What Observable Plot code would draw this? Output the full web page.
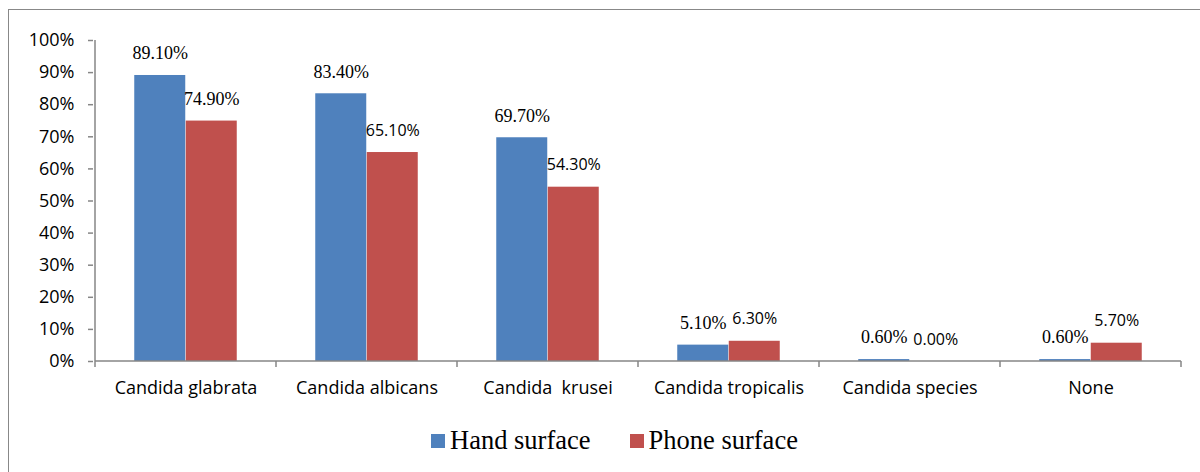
<!DOCTYPE html>
<html>
<head>
<meta charset="utf-8">
<script src="https://cdn.jsdelivr.net/npm/d3@7"></script>
<script src="https://cdn.jsdelivr.net/npm/@observablehq/plot@0.6"></script>
<style>
  html, body { margin: 0; padding: 0; background: #fff; overflow: hidden; width: 1200px; height: 472px; }
  #frame { position: absolute; left: 8px; top: 9px; width: 1400px; height: 700px; border: 1.5px solid #888; box-sizing: border-box; }
  #chart { position: absolute; left: 0; top: 0; }
  svg text { white-space: pre; }
  svg .serif-label text, svg g.serif-label { font-family: "Liberation Serif", "Times New Roman", serif !important; }
  #legend { position: absolute; left: 431px; top: 425px; display: flex; align-items: center; font-family: "Liberation Serif", "Times New Roman", serif; font-size: 26.5px; color: #000; }
  .item { display: flex; align-items: center; }
  .sw { width: 14px; height: 14px; margin-right: 5px; }
</style>
</head>
<body>
<div id="frame"></div>
<div id="chart"></div>
<div id="legend"></div>
<script>
const categories = ["Candida glabrata", "Candida albicans", "Candida  krusei", "Candida tropicalis", "Candida species", "None"];
const seriesNames = ["Hand surface", "Phone surface"];
const handValues = [89.1, 83.4, 69.7, 5.1, 0.6, 0.6];
const phoneValues = [74.9, 65.1, 54.3, 6.3, 0.0, 5.7];
const yTicks = [0, 10, 20, 30, 40, 50, 60, 70, 80, 90, 100];
const colors = ["#4F81BD", "#C0504D"];

const W = 1200, H = 400;
const mL = 93, mR = 18, mT = 40, mB = 39;
const bw = (W - mL - mR) / categories.length;
const barW = 51.5;

const hand = categories.map((c, i) => ({category: c, value: handValues[i], label: handValues[i].toFixed(2) + "%", i}));
const phone = categories.map((c, i) => ({category: c, value: phoneValues[i], label: phoneValues[i].toFixed(2) + "%", i}));

const axisColor = "#868686";

const axesMark = (index, scales, values, dims) => {
  const x = scales.x, y = scales.y;
  const b = typeof x.bandwidth === "function" ? x.bandwidth() : x.bandwidth;
  const g = d3.create("svg:g").attr("stroke", axisColor).attr("stroke-width", 1.5);
  const xs = categories.map(c => x(c));
  xs.push(x(categories[categories.length - 1]) + b);
  xs.forEach(px => g.append("line").attr("x1", px).attr("x2", px).attr("y1", y(0)).attr("y2", y(0) + 6));
  g.append("line").attr("x1", xs[0]).attr("x2", xs[0]).attr("y1", y(0)).attr("y2", y(100));
  g.append("line").attr("x1", xs[0]).attr("x2", xs[xs.length - 1]).attr("y1", y(0)).attr("y2", y(0));
  return g.node();
};

const sansFont = "Open Sans, sans-serif";

const chart = Plot.plot({
  width: W, height: H,
  marginLeft: mL, marginRight: mR, marginTop: mT, marginBottom: mB,
  style: {fontFamily: sansFont, background: "transparent", color: "#000"},
  x: {domain: categories, paddingInner: 0, paddingOuter: 0, label: null},
  y: {domain: [0, 100], label: null},
  marks: [
    Plot.barY(hand, {x: "category", y: "value", fill: colors[0], insetLeft: bw / 2 - barW, insetRight: bw / 2}),
    Plot.barY(phone, {x: "category", y: "value", fill: colors[1], insetLeft: bw / 2, insetRight: bw / 2 - barW}),
    axesMark,
    Plot.axisY({ticks: yTicks, tickFormat: d => d + "%", tickSize: 5, tickPadding: 14, stroke: axisColor, strokeWidth: 1.5, fontSize: 18, fill: "#000", label: null}),
    Plot.axisX({tickSize: 0, tickPadding: 20, fontSize: 18, fill: "#000", label: null}),
    Plot.text(hand, {x: "category", y: "value", text: "label", dx: -barW / 2, dy: -22, fontSize: 18, className: "serif-label", fill: "#000"}),
    Plot.text(phone.filter(d => d.i === 0), {x: "category", y: "value", text: "label", dx: barW / 2, dy: -22, fontSize: 18, className: "serif-label", fill: "#000"}),
    Plot.text(phone.filter(d => d.i !== 0), {x: "category", y: "value", text: "label", dx: barW / 2, dy: -22, fontSize: 16, fill: "#000"})
  ]
});
document.getElementById("chart").appendChild(chart);

const legend = document.getElementById("legend");
seriesNames.forEach((name, i) => {
  const item = document.createElement("div");
  item.className = "item";
  if (i > 0) item.style.marginLeft = "39px";
  const sw = document.createElement("div");
  sw.className = "sw";
  sw.style.background = colors[i];
  const t = document.createElement("span");
  t.textContent = name;
  item.appendChild(sw);
  item.appendChild(t);
  legend.appendChild(item);
});
</script>
</body>
</html>
